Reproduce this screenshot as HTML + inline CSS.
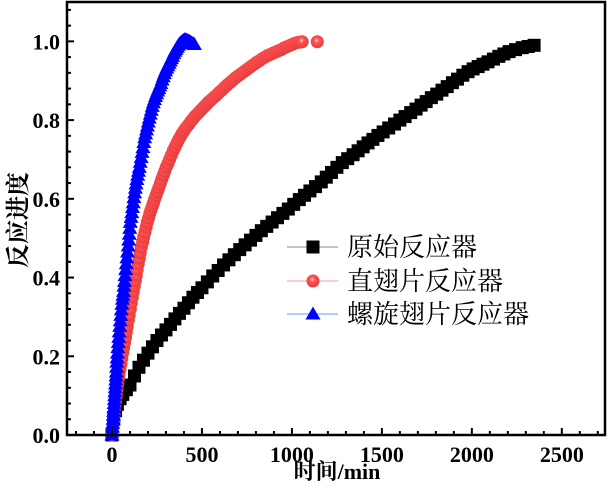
<!DOCTYPE html>
<html><head><meta charset="utf-8"><style>
html,body{margin:0;padding:0;background:#fff;}
svg{display:block;}
</style></head><body>
<svg id="chart" width="609" height="490" xmlns="http://www.w3.org/2000/svg">
<defs>
<radialGradient id="redball" cx="0.45" cy="0.4" r="0.6">
<stop offset="0" stop-color="#ffe0e0"/><stop offset="0.3" stop-color="#f55"/><stop offset="1" stop-color="#e83a3a"/>
</radialGradient>
</defs>
<g id="marks"></g>
<g id="axes"></g>
<text x="0" y="0" transform="translate(26,220) rotate(-90)" text-anchor="middle" font-family="'Liberation Serif','Noto Serif CJK SC',serif" font-size="24" font-weight="bold">反应进度</text>
<text x="337" y="479" text-anchor="middle" font-family="'Liberation Serif','Noto Serif CJK SC',serif" font-size="22" font-weight="bold">时间/min</text>
<g id="legend"></g>
</svg>
<script>
const xTicks=[0,500,1000,1500,2000,2500];
const yTicks=[0.0,0.2,0.4,0.6,0.8,1.0];
const yTickLabels=["0.0","0.2","0.4","0.6","0.8","1.0"];
const seriesNames=["原始反应器","直翅片反应器","螺旋翅片反应器"];
const blackX=[0,10,20,30,45,60,80,100,125,150,175,200,225,250,275,300,325,350,375,400,425,450,475,500,530,560,590,620,650,680,710,740,770,800,830,860,890,920,950,980,1010,1041,1070,1100,1131,1163,1191,1220,1250,1280,1310,1340,1368,1396,1423,1450,1478,1507,1538,1570,1600,1629,1660,1690,1718,1746,1775,1805,1834,1863,1892,1920,1950,1979,2007,2035,2062,2090,2120,2150,2178,2207,2243,2280,2313,2346];
const blackY=[0,0.04,0.062,0.078,0.092,0.103,0.115,0.127,0.15,0.172,0.19,0.208,0.224,0.24,0.254,0.267,0.281,0.295,0.309,0.322,0.336,0.35,0.362,0.374,0.389,0.404,0.418,0.432,0.445,0.458,0.471,0.483,0.495,0.507,0.519,0.53,0.541,0.552,0.563,0.574,0.586,0.598,0.609,0.62,0.631,0.643,0.655,0.667,0.68,0.692,0.702,0.712,0.722,0.732,0.742,0.751,0.761,0.77,0.78,0.79,0.8,0.809,0.819,0.828,0.838,0.847,0.857,0.866,0.876,0.885,0.895,0.904,0.914,0.923,0.93,0.936,0.942,0.948,0.955,0.962,0.968,0.974,0.979,0.984,0.987,0.99];
const redX=[0,4,8,12,16,20,24,28,32,36,40,45,50,55,60,65,70,75,80,85,91,96,102,107,113,118,124,130,135,140,146,152,157,163,170,176,183,190,196,203,210,216,223,230,236,244,252,260,268,276,285,293,302,311,320,330,340,350,360,370,380,390,400,412,425,437,450,462,475,487,500,512,525,537,550,565,580,595,610,625,640,655,670,685,700,715,730,745,760,775,790,805,820,835,850,865,880,895,910,925,941,955,970,985,1000,1015,1030,1044,1057,1141];
const redY=[0,0.018,0.035,0.052,0.07,0.085,0.1,0.115,0.13,0.143,0.155,0.168,0.18,0.195,0.21,0.222,0.235,0.248,0.262,0.276,0.292,0.305,0.32,0.335,0.35,0.364,0.378,0.392,0.405,0.42,0.435,0.449,0.463,0.477,0.49,0.503,0.515,0.528,0.54,0.551,0.562,0.571,0.58,0.589,0.598,0.608,0.618,0.628,0.638,0.649,0.66,0.67,0.681,0.69,0.7,0.711,0.722,0.731,0.741,0.75,0.758,0.766,0.773,0.781,0.788,0.796,0.803,0.81,0.816,0.822,0.828,0.834,0.84,0.846,0.851,0.857,0.863,0.87,0.876,0.883,0.889,0.895,0.901,0.907,0.912,0.917,0.922,0.927,0.932,0.937,0.942,0.947,0.951,0.956,0.96,0.964,0.967,0.97,0.973,0.976,0.979,0.983,0.986,0.989,0.992,0.995,0.997,0.998,0.999,0.999];
const blueX=[0,1.5,3,4.5,6,7.5,9,10.5,12,13.5,15,16.5,18,19.5,21,22.5,24,25.5,27,28.5,30,32.5,35,37.5,40,43,46,49,52,55,58,61,64,66.5,69,72.5,76,79.5,83,86.5,90,93,96,99,102,106,110,114,118,122,126,130,134,138.5,143,147.5,152,157,162,167,172,177,182,187,192,197,202,207.5,213,218.5,224,230,236,242,248,254,260,266,272,278.5,285,291.5,298,304.5,311,317.5,324,330.5,337,343.5,350,356.5,363,369.5,376,383,390,396,402,409,416,423,430,437,444,451,458];
const blueY=[0,0.01,0.02,0.03,0.04,0.05,0.06,0.07,0.08,0.09,0.1,0.11,0.12,0.13,0.14,0.15,0.16,0.172,0.185,0.196,0.208,0.222,0.235,0.248,0.262,0.276,0.29,0.304,0.318,0.332,0.345,0.355,0.365,0.378,0.39,0.405,0.42,0.435,0.45,0.465,0.48,0.495,0.51,0.525,0.54,0.553,0.565,0.578,0.59,0.603,0.615,0.627,0.638,0.649,0.66,0.67,0.68,0.693,0.705,0.718,0.73,0.743,0.755,0.765,0.775,0.785,0.795,0.805,0.815,0.825,0.835,0.844,0.852,0.86,0.867,0.874,0.88,0.887,0.893,0.902,0.91,0.918,0.925,0.932,0.938,0.944,0.95,0.956,0.962,0.969,0.975,0.98,0.985,0.99,0.994,0.997,1.0,1.002,1.004,1.004,1.003,1.002,1.0,0.998,0.996,0.994,0.992];

const L=67,R=605,T=2,B=435;
const xMin=-250,xMax=2740,yMin=0,yMax=1.1;
const sx=v=>L+(v-xMin)/(xMax-xMin)*(R-L);
const sy=v=>B-(v-yMin)/(yMax-yMin)*(B-T);
const NS="http://www.w3.org/2000/svg";
function mk(tag,attrs,parent){const e=document.createElementNS(NS,tag);for(const k in attrs)e.setAttribute(k,attrs[k]);parent.appendChild(e);return e;}
const marks=document.getElementById('marks'),axes=document.getElementById('axes'),legend=document.getElementById('legend');

function square(cx,cy,p,name){const e=mk('rect',{x:cx-6.5,y:cy-6.5,width:13,height:13,fill:'#000'},p);

return e;}
function ball(cx,cy,p,name){const e=mk('circle',{cx:cx,cy:cy,r:6.5,fill:'url(#redball)'},p);

return e;}
function tri(cx,cy,p,name){const e=mk('polygon',{points:`${cx},${cy-7.5} ${cx+7.5},${cy+5.5} ${cx-7.5},${cy+5.5}`,fill:'#0000ff'},p);

return e;}

const gB=mk('g',{},marks);


blackX.forEach((x,i)=>square(sx(x),sy(blackY[i]),gB,'point-original'));
const gR=mk('g',{},marks);


redX.forEach((x,i)=>ball(sx(x),sy(redY[i]),gR,'point-straight-fin'));
const gU=mk('g',{},marks);


blueX.forEach((x,i)=>tri(sx(x),sy(blueY[i]),gU,'point-spiral-fin'));

const fr=mk('rect',{x:L,y:T,width:R-L,height:B-T,fill:'none',stroke:'#000','stroke-width':2.5},axes);


const font="'Liberation Serif',serif";
for(let v=-200;v<=2700;v+=100){const major=v%500===0;const x=sx(v);
 mk('line',{x1:x,x2:x,y1:B,y2:B-(major?7:4),stroke:'#000','stroke-width':2},axes);}
xTicks.forEach(v=>{const t=mk('text',{x:sx(v),y:462,'text-anchor':'middle','font-family':font,'font-size':22,'font-weight':'bold'},axes);t.textContent=v;

});
for(let k=0;k<=27;k++){const v=k*0.04;const major=k%5===0;const y=sy(v);
 mk('line',{x1:L,x2:L+(major?7:4),y1:y,y2:y,stroke:'#000','stroke-width':2},axes);}
yTicks.forEach((v,i)=>{const t=mk('text',{x:60,y:sy(v)+8,'text-anchor':'end','font-family':font,'font-size':22,'font-weight':'bold'},axes);t.textContent=yTickLabels[i];

});

const rowsY=[247,281,314],lineCol=['#888','#f99','#6699ff'],fns=[square,ball,tri];
seriesNames.forEach((n,i)=>{const g=mk('g',{},legend);
 
 
 mk('line',{x1:287,x2:338,y1:rowsY[i],y2:rowsY[i],stroke:lineCol[i],'stroke-width':1},g);
 fns[i](313,rowsY[i],g,'legend-marker');
 const t=mk('text',{x:347,y:rowsY[i]+9,'font-family':"'Liberation Serif','Noto Serif CJK SC',serif",'font-size':26},g);t.textContent=n;
 
 });
</script>
</body></html>
